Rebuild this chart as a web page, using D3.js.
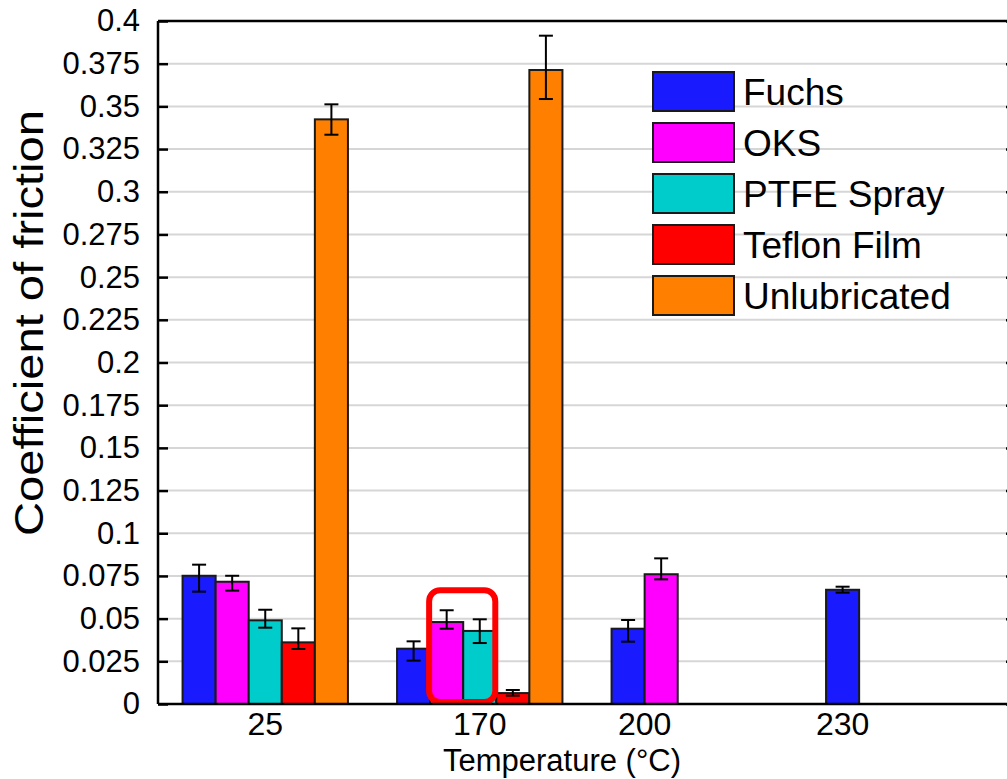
<!DOCTYPE html>
<html>
<head>
<meta charset="utf-8">
<script src="https://cdn.jsdelivr.net/npm/d3@7"></script>
<style>
  html, body { margin: 0; padding: 0; background: #fff; }
  svg { display: block; font-family: "Liberation Sans", Arial, Helvetica, sans-serif; }
</style>
</head>
<body>
<svg id="chart" width="1007" height="779"></svg>
<script>
// Temperature groups (°C) and lubricant series
const temperatures = ["25", "170", "200", "230"];
const lubricants = ["Fuchs", "OKS", "PTFE Spray", "Teflon Film", "Unlubricated"];
const lubricantColors = ["#1a1aff", "#ff00ff", "#00cccc", "#ff0000", "#ff8000"];

// Mean coefficient of friction per lubricant, one entry per temperature (null = not tested)
const fuchs        = [0.0751, 0.0324, 0.0441, 0.0669];
const oks          = [0.0716, 0.0480, 0.0760, null];
const ptfeSpray    = [0.0490, 0.0428, null,   null];
const teflonFilm   = [0.0361, 0.0064, null,   null];
const unlubricated = [0.3424, 0.3713, null,   null];

// Error bar bounds (upper / lower) per lubricant and temperature
const fuchsHi  = [0.0816, 0.0367, 0.0492, 0.0687];
const fuchsLo  = [0.0658, 0.0254, 0.0365, 0.0652];
const oksHi    = [0.0751, 0.0549, 0.0853, null];
const oksLo    = [0.0664, 0.0441, 0.0730, null];
const ptfeHi   = [0.0552, 0.0496, null, null];
const ptfeLo   = [0.0447, 0.0357, null, null];
const teflonHi = [0.0443, 0.0082, null, null];
const teflonLo = [0.0322, 0.0049, null, null];
const unlubHi  = [0.3512, 0.3914, null, null];
const unlubLo  = [0.3334, 0.3543, null, null];

// Y axis ticks
const yTicks = d3.range(0, 0.4001, 0.025).map(v => +v.toFixed(3));

const seriesValues = [fuchs, oks, ptfeSpray, teflonFilm, unlubricated];
const seriesHi = [fuchsHi, oksHi, ptfeHi, teflonHi, unlubHi];
const seriesLo = [fuchsLo, oksLo, ptfeLo, teflonLo, unlubLo];

const svg = d3.select("#chart");
const plot = { left: 158, right: 1016, top: 21, bottom: 704 };
const FONT = "'Liberation Sans', Arial, Helvetica, sans-serif";

const y = d3.scaleLinear().domain([0, 0.4]).range([plot.bottom, plot.top]);
// Groups share the axis width; every series keeps its own slot inside a group
const x0 = d3.scaleBand().domain(temperatures).range([plot.left, plot.right])
  .paddingInner(0.229).paddingOuter(0.1145);
const x1 = d3.scaleBand().domain(lubricants).range([0, x0.bandwidth()]);
const barW = x1.bandwidth();

// Gridlines
svg.append("g")
  .selectAll("line")
  .data(yTicks.filter(t => t > 0 && t < 0.4))
  .join("line")
  .attr("x1", plot.left).attr("x2", plot.right)
  .attr("y1", d => y(d)).attr("y2", d => y(d))
  .attr("stroke", "#d6d6d6").attr("stroke-width", 2);

// Flatten bars (missing measurements are skipped)
const bars = [];
temperatures.forEach((t, ti) => {
  lubricants.forEach((name, si) => {
    const v = seriesValues[si][ti];
    if (v == null) return;
    bars.push({
      temp: t, name, si, value: v,
      hi: seriesHi[si][ti], lo: seriesLo[si][ti],
      x: x0(t) + x1(name)
    });
  });
});

svg.append("g")
  .selectAll("rect")
  .data(bars)
  .join("rect")
  .attr("x", d => d.x)
  .attr("y", d => y(d.value))
  .attr("width", barW)
  .attr("height", d => y(0) - y(d.value))
  .attr("fill", d => lubricantColors[d.si])
  .attr("stroke", "#1a1a1a").attr("stroke-width", 2);

// Error bars
const errG = svg.append("g").attr("stroke", "#000").attr("stroke-width", 2);
const cap = 7;
bars.forEach(d => {
  const cx = d.x + barW / 2;
  errG.append("line").attr("x1", cx).attr("x2", cx).attr("y1", y(d.hi)).attr("y2", y(d.lo));
  errG.append("line").attr("x1", cx - cap).attr("x2", cx + cap).attr("y1", y(d.hi)).attr("y2", y(d.hi));
  errG.append("line").attr("x1", cx - cap).attr("x2", cx + cap).attr("y1", y(d.lo)).attr("y2", y(d.lo));
});

// Highlight box around OKS and PTFE Spray at 170 °C
const hlBars = bars.filter(d => d.temp === "170" && (d.name === "OKS" || d.name === "PTFE Spray"));
const hlLeft = d3.min(hlBars, d => d.x) - 1;
const hlRight = d3.max(hlBars, d => d.x + barW) - 1;
const hlTop = y(d3.max(hlBars, d => d.hi)) - 20;
svg.append("rect")
  .attr("x", hlLeft).attr("y", hlTop)
  .attr("width", hlRight - hlLeft).attr("height", y(0) - 2 - hlTop)
  .attr("rx", 11).attr("ry", 11)
  .attr("fill", "none").attr("stroke", "#ff0000").attr("stroke-width", 6);

// Axes frame
const axisG = svg.append("g").attr("stroke", "#000").attr("stroke-width", 2.5);
axisG.append("line").attr("x1", plot.left).attr("x2", plot.right).attr("y1", plot.top).attr("y2", plot.top);
axisG.append("line").attr("x1", plot.left).attr("x2", plot.right).attr("y1", plot.bottom).attr("y2", plot.bottom);
axisG.append("line").attr("x1", plot.left).attr("x2", plot.left).attr("y1", plot.top).attr("y2", plot.bottom);
axisG.append("line").attr("x1", plot.right).attr("x2", plot.right).attr("y1", plot.top).attr("y2", plot.bottom);

// Y axis with inward ticks on both sides
const fmt = v => String(+v.toFixed(3));
const yAxisL = d3.axisLeft(y).tickValues(yTicks).tickSizeInner(-10).tickSizeOuter(0).tickPadding(18).tickFormat(fmt);
const gL = svg.append("g").attr("transform", `translate(${plot.left},0)`).call(yAxisL);
gL.select(".domain").remove();
gL.selectAll(".tick line").attr("stroke", "#000").attr("stroke-width", 2.5);
gL.selectAll(".tick text").attr("font-size", 31).attr("fill", "#000").attr("font-family", FONT);

const yAxisR = d3.axisRight(y).tickValues(yTicks).tickSizeInner(-10).tickSizeOuter(0).tickFormat("");
const gR = svg.append("g").attr("transform", `translate(${plot.right},0)`).call(yAxisR);
gR.select(".domain").remove();
gR.selectAll(".tick line").attr("stroke", "#000").attr("stroke-width", 2.5);

// Temperature labels, centred under the bars measured at each temperature
const labelX = t => d3.mean(bars.filter(d => d.temp === t), d => d.x + barW / 2);
svg.append("g")
  .selectAll("text")
  .data(temperatures)
  .join("text")
  .attr("x", d => labelX(d))
  .attr("y", 735)
  .attr("text-anchor", "middle").attr("font-size", 32).attr("fill", "#000")
  .text(d => d);

// Axis titles
svg.append("text")
  .attr("x", 562).attr("y", 771)
  .attr("text-anchor", "middle").attr("font-size", 31).attr("fill", "#000")
  .text("Temperature (°C)");

svg.append("text")
  .attr("transform", `translate(43,323) rotate(-90)`)
  .attr("text-anchor", "middle").attr("font-size", 40).attr("fill", "#000")
  .attr("textLength", 426).attr("lengthAdjust", "spacingAndGlyphs")
  .text("Coefficient of friction");

// Legend
const legend = svg.append("g").attr("transform", "translate(653,72)");
const legRow = legend.selectAll("g").data(lubricants).join("g")
  .attr("transform", (d, i) => `translate(0,${i * 51})`);
legRow.append("rect")
  .attr("width", 81).attr("height", 39)
  .attr("fill", (d, i) => lubricantColors[i])
  .attr("stroke", "#1a1a1a").attr("stroke-width", 2);
legRow.append("text")
  .attr("x", 90).attr("y", 20).attr("dy", "0.36em")
  .attr("font-size", 37).attr("fill", "#000")
  .text(d => d);
</script>
</body>
</html>
